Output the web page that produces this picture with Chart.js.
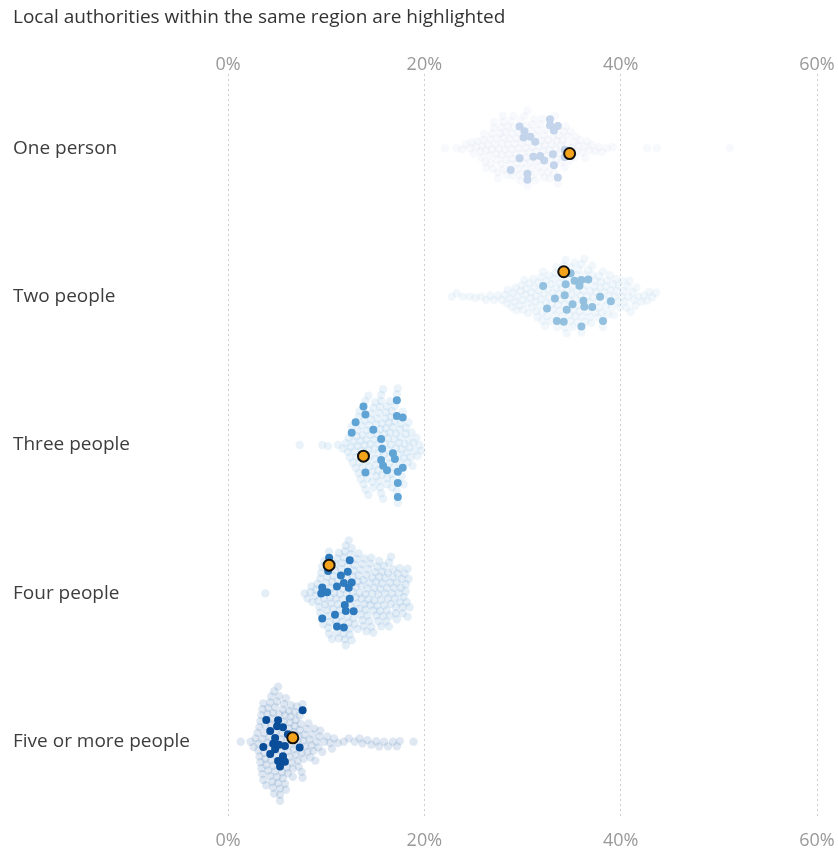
<!DOCTYPE html>
<html><head><meta charset="utf-8">
<script src="https://cdn.jsdelivr.net/npm/chart.js@4.4.1/dist/chart.umd.min.js"></script>
<style>html,body{margin:0;padding:0;background:#fff;}#wrap{width:838px;height:851px;}</style>
</head><body><div id="wrap"><canvas id="c" width="838" height="851"></canvas></div>
<script>
const chartTitle = 'Local authorities within the same region are highlighted';
const categories = ['One person','Two people','Three people','Four people','Five or more people'];
const xTickValues = [0,20,40,60];

// other local authorities (%)
const othersOne = [22.1,23.3,23.9,24.2,24.7,24.8,
25.0,25.3,25.4,25.7,25.8,25.9,
26.0,26.1,26.2,26.3,26.3,26.5,26.6,26.7,26.8,26.9,26.9,
27.0,27.1,27.1,27.2,27.3,27.4,27.4,27.5,27.5,27.6,27.7,27.8,27.8,27.9,27.9,
28.0,28.0,28.1,28.1,28.2,28.3,28.3,28.4,28.5,28.5,28.6,28.7,28.7,28.8,28.9,28.9,
29.0,29.0,29.1,29.1,29.2,29.3,29.4,29.4,29.5,29.6,29.6,29.7,29.8,29.8,29.9,
30.0,30.1,30.2,30.2,30.3,30.4,30.4,30.5,30.5,30.6,30.7,30.8,30.9,30.9,
31.0,31.0,31.1,31.2,31.3,31.4,31.4,31.5,31.6,31.6,31.7,31.8,31.9,31.9,
32.0,32.1,32.2,32.2,32.3,32.4,32.4,32.5,32.6,32.6,32.7,32.8,32.9,
33.0,33.1,33.2,33.3,33.4,33.5,33.5,33.6,33.7,33.8,33.9,
34.0,34.1,34.2,34.3,34.4,34.5,34.6,34.8,34.9,
35.0,35.2,35.3,35.4,35.5,35.7,35.9,
36.1,36.3,36.4,36.6,36.8,37.1,37.4,37.8,38.1,38.6,39.2,42.7,43.7,51.1];
const othersTwo = [22.8,23.3,23.9,24.6,25.2,25.8,26.3,26.7,27.1,27.5,27.9,
28.2,28.4,28.5,28.7,28.9,
29.0,29.2,29.3,29.4,29.5,29.7,29.8,29.9,
30.0,30.1,30.2,30.3,30.4,30.5,30.6,30.7,30.8,30.9,
31.0,31.1,31.2,31.3,31.4,31.4,31.5,31.6,31.7,31.8,31.9,31.9,
32.0,32.0,32.1,32.2,32.3,32.4,32.4,32.5,32.6,32.7,32.7,32.8,32.9,
33.0,33.1,33.1,33.2,33.3,33.4,33.4,33.5,33.5,33.6,33.7,33.8,33.8,33.9,
34.0,34.0,34.1,34.2,34.3,34.3,34.4,34.5,34.6,34.6,34.7,34.8,34.9,34.9,
35.0,35.1,35.1,35.2,35.3,35.4,35.4,35.5,35.5,35.6,35.7,35.7,35.8,35.9,
36.0,36.0,36.1,36.2,36.3,36.3,36.4,36.5,36.6,36.6,36.7,36.8,36.9,36.9,
37.0,37.1,37.1,37.2,37.3,37.4,37.4,37.5,37.6,37.7,37.8,37.8,37.9,
38.0,38.1,38.2,38.2,38.3,38.4,38.5,38.5,38.6,38.7,38.8,38.9,
39.0,39.1,39.2,39.3,39.4,39.5,39.6,39.7,39.8,39.9,
40.1,40.2,40.3,40.4,40.6,40.7,40.8,40.9,
41.0,41.2,41.3,41.5,41.6,41.8,
42.1,42.4,42.7,42.9,43.2,43.6];
const othersThree = [7.3,9.6,10.2,11.2,11.7,
12.0,12.2,12.3,12.4,12.5,12.6,12.7,12.8,12.9,
13.0,13.1,13.1,13.2,13.2,13.3,13.3,13.4,13.4,13.5,13.5,13.6,13.6,13.7,13.7,13.8,13.9,13.9,
14.0,14.0,14.1,14.1,14.2,14.2,14.3,14.3,14.3,14.4,14.4,14.5,14.5,14.5,14.6,14.6,14.7,14.7,14.8,14.8,14.9,14.9,
15.0,15.0,15.0,15.1,15.1,15.2,15.2,15.3,15.3,15.3,15.4,15.4,15.5,15.5,15.5,15.6,15.6,15.6,15.7,15.7,15.8,15.8,15.9,15.9,
16.0,16.0,16.1,16.1,16.2,16.2,16.2,16.3,16.3,16.4,16.4,16.4,16.5,16.5,16.6,16.6,16.7,16.7,16.7,16.8,16.8,16.9,16.9,
17.0,17.0,17.1,17.1,17.2,17.2,17.3,17.3,17.4,17.4,17.5,17.5,17.6,17.6,17.7,17.7,17.8,17.9,17.9,
18.0,18.1,18.1,18.2,18.3,18.4,18.4,18.5,18.6,18.7,18.8,18.9,
19.0,19.2,19.3,19.5,19.7];
const othersFour = [3.8,7.8,8.1,8.4,8.5,8.6,8.9,
9.0,9.1,9.2,9.3,9.4,9.4,9.5,9.6,9.7,9.8,9.8,9.9,
10.0,10.1,10.1,10.2,10.2,10.3,10.3,10.4,10.4,10.5,10.5,10.6,10.6,10.7,10.7,10.8,10.9,10.9,
11.0,11.0,11.1,11.1,11.2,11.2,11.3,11.3,11.4,11.4,11.5,11.5,11.6,11.6,11.7,11.7,11.8,11.8,11.9,11.9,
12.0,12.0,12.1,12.1,12.2,12.2,12.3,12.3,12.4,12.4,12.5,12.5,12.6,12.6,12.7,12.7,12.8,12.8,12.9,12.9,
13.0,13.0,13.1,13.1,13.2,13.2,13.3,13.3,13.4,13.4,13.5,13.5,13.6,13.6,13.7,13.7,13.8,13.8,13.9,13.9,
14.0,14.0,14.1,14.1,14.2,14.2,14.3,14.3,14.4,14.4,14.5,14.5,14.6,14.6,14.7,14.7,14.8,14.8,14.9,14.9,
15.0,15.1,15.1,15.2,15.2,15.3,15.3,15.4,15.4,15.5,15.5,15.6,15.6,15.7,15.7,15.8,15.9,15.9,
16.0,16.0,16.1,16.2,16.2,16.3,16.3,16.4,16.4,16.5,16.5,16.6,16.6,16.7,16.8,16.8,16.9,
17.0,17.1,17.1,17.2,17.2,17.3,17.4,17.5,17.5,17.6,17.7,17.8,17.8,17.9,
18.0,18.1,18.1,18.2,18.3,18.3,18.4,18.5];
const othersFive = [1.3,2.3,2.6,2.8,
3.0,3.1,3.1,3.2,3.2,3.3,3.3,3.4,3.4,3.5,3.5,3.5,3.6,3.6,3.7,3.7,3.8,3.8,3.9,3.9,
4.0,4.0,4.1,4.1,4.2,4.2,4.3,4.3,4.4,4.4,4.4,4.5,4.5,4.6,4.6,4.6,4.7,4.7,4.8,4.8,4.9,4.9,
5.0,5.0,5.1,5.1,5.2,5.2,5.3,5.3,5.3,5.4,5.4,5.5,5.5,5.6,5.6,5.7,5.7,5.8,5.8,5.9,5.9,
6.0,6.0,6.1,6.1,6.2,6.2,6.3,6.3,6.4,6.4,6.5,6.5,6.6,6.6,6.7,6.7,6.8,6.8,6.9,6.9,
7.0,7.1,7.1,7.2,7.2,7.3,7.3,7.4,7.5,7.5,7.6,7.6,7.7,7.7,7.8,7.9,
8.0,8.1,8.2,8.3,8.4,8.5,8.6,8.7,8.8,8.9,
9.0,9.2,9.3,9.4,9.6,9.8,
10.1,10.4,10.6,10.8,
11.2,11.8,12.3,12.9,13.4,13.7,14.2,14.6,15.1,15.4,15.9,16.3,16.8,17.2,17.5,18.9];

// local authorities in the same region (%)
const regionOne = [28.8,30.1,30.8,31.1,31.8,32.8,32.8,33.6,34.3,30.2,29.7,30.5,31.3,33.2,33.6,34.3,29.7,30.5,33.2,33.1,32.2];
const regionTwo = [35.1,34.3,36.3,34.2,34.9,37.1,37.9,39.0,35.8,34.5,35.3,33.5,32.5,32.1,36.2,36.0,36.7,33.3,34.4,36.0,38.2];
const regionThree = [14.0,14.0,13.0,17.8,17.2,17.3,17.8,17.3,17.3,14.8,16.2,12.6,13.8,15.6,15.7,15.8,16.8,17.2,17.0,15.6];
const regionFour = [11.8,10.1,9.6,10.3,10.9,12.4,12.0,12.3,9.5,10.2,12.4,9.6,11.1,11.8,12.6,11.1,11.9,11.5,12.2,12.8];
const regionFive = [3.9,4.3,5.0,4.3,5.2,3.6,5.1,5.8,5.3,5.6,5.1,5.8,4.6,4.8,6.1,5.6,7.6,4.8,7.3];

// selected local authority (%)
const selected = [34.8,34.2,13.8,10.3,6.6];

const others = [othersOne,othersTwo,othersThree,othersFour,othersFive];
const regions = [regionOne,regionTwo,regionThree,regionFour,regionFive];
const rowColors = [[196,212,235],[146,192,222],[96,164,214],[45,122,191],[10,78,154]];

const FONT = "'Open Sans', sans-serif";
function rgba(c,a){return 'rgba('+c[0]+','+c[1]+','+c[2]+','+a+')';}

const bgData=[], bgColors=[], hlData=[], hlColors=[], selData=[];
others.forEach((arr,r)=>arr.forEach(v=>{bgData.push({x:v,y:r});bgColors.push(rgba(rowColors[r],0.13));}));
regions.forEach((arr,r)=>arr.forEach(v=>{hlData.push({x:v,y:r});hlColors.push(rgba(rowColors[r],1));}));
selected.forEach((v,r)=>selData.push({x:v,y:r}));

const tickFont = {family:FONT,size:18};
function noPad(s){s.paddingLeft=0;s.paddingRight=0;s.paddingTop=0;s.paddingBottom=0;}
const chart = new Chart(document.getElementById('c'),{
  type:'scatter',
  data:{datasets:[
    {label:'Selected',data:selData,order:0,pointRadius:5.5,pointBackgroundColor:'#f5a31a',pointBorderColor:'#111',pointBorderWidth:2,xAxisID:'x',yAxisID:'y'},
    {label:'Region',data:hlData,order:1,pointRadius:4,pointBackgroundColor:hlColors,pointBorderWidth:0,xAxisID:'x',yAxisID:'y'},
    {label:'Other',data:bgData,order:2,pointRadius:4.2,pointBackgroundColor:bgColors,pointBorderWidth:0,xAxisID:'x',yAxisID:'y'}
  ]},
  options:{
    responsive:false,animation:false,
    layout:{padding:{left:13,right:21,top:0,bottom:0}},
    plugins:{
      legend:{display:false},tooltip:{enabled:false},
      title:{display:true,text:chartTitle,align:'start',color:'#333',font:{family:FONT,size:19,weight:'normal'},padding:{top:6,bottom:0}}
    },
    scales:{
      x:{type:'linear',position:'bottom',min:0,max:60,
        afterBuildTicks:s=>{s.ticks=xTickValues.map(v=>({value:v}));},
        afterFit:s=>{s.height=35;noPad(s);},
        ticks:{callback:v=>v+'%',color:'#999',font:tickFont,padding:14,maxRotation:0},
        grid:{color:'#cfcfcf',lineWidth:1,drawTicks:false},
        border:{display:false,dash:[2,3]}},
      x2:{type:'linear',position:'top',min:0,max:60,
        afterBuildTicks:s=>{s.ticks=xTickValues.map(v=>({value:v}));},
        afterFit:s=>{s.height=45.2;noPad(s);},
        ticks:{callback:v=>v+'%',color:'#999',font:tickFont,padding:-2,maxRotation:0},
        grid:{display:false,drawTicks:false},border:{display:false}},
      y:{type:'linear',min:-0.5,max:4.5,reverse:true,
        afterBuildTicks:s=>{s.ticks=categories.map((c,i)=>({value:i}));},
        afterFit:s=>{s.width=215;noPad(s);},
        ticks:{callback:v=>categories[v],crossAlign:'far',color:'#3d3d3d',font:{family:FONT,size:19}},
        grid:{display:false},border:{display:false}}
    }
  }
});

// beeswarm layout in pixel space using the chart's scales
(function layout(){
  const xs=chart.scales.x, ys=chart.scales.y;
  const unit=ys.getPixelForValue(1)-ys.getPixelForValue(0);
  const D=6, D2=D*D;
  const newBg=[], newHl=[], newSel=[], bgC=[], hlC=[];
  for(let r=0;r<categories.length;r++){
    const pts=[];
    others[r].forEach(v=>pts.push({v,k:2}));
    regions[r].forEach(v=>pts.push({v,k:1}));
    pts.push({v:selected[r],k:0});
    pts.forEach(p=>p.px=xs.getPixelForValue(p.v));
    pts.sort((a,b)=>a.px-b.px||a.k-b.k);
    const placed=[];
    pts.forEach((p,i)=>{
      const cands=[0];
      for(const q of placed){const dx=p.px-q.px;if(dx*dx<D2){const dy=Math.sqrt(D2-dx*dx);cands.push(q.y+dy,q.y-dy);}}
      const sgn=i%2?1:-1;
      cands.sort((a,b)=>Math.abs(a)-Math.abs(b)||(a-b)*sgn);
      let y=0;
      for(const c of cands){let ok=true;for(const q of placed){const dx=p.px-q.px,dy=c-q.y;if(dx*dx+dy*dy<D2-1e-6){ok=false;break;}}if(ok){y=c;break;}}
      p.y=y;placed.push(p);
    });
    pts.forEach(p=>{
      const pt={x:p.v,y:r+p.y/unit};
      if(p.k===2){newBg.push(pt);bgC.push(rgba(rowColors[r],0.13));}
      else if(p.k===1){newHl.push(pt);hlC.push(rgba(rowColors[r],1));}
      else newSel.push(pt);
    });
  }
  chart.data.datasets[0].data=newSel;
  chart.data.datasets[1].data=newHl;chart.data.datasets[1].pointBackgroundColor=hlC;
  chart.data.datasets[2].data=newBg;chart.data.datasets[2].pointBackgroundColor=bgC;
  chart.update();
})();
</script></body></html>
